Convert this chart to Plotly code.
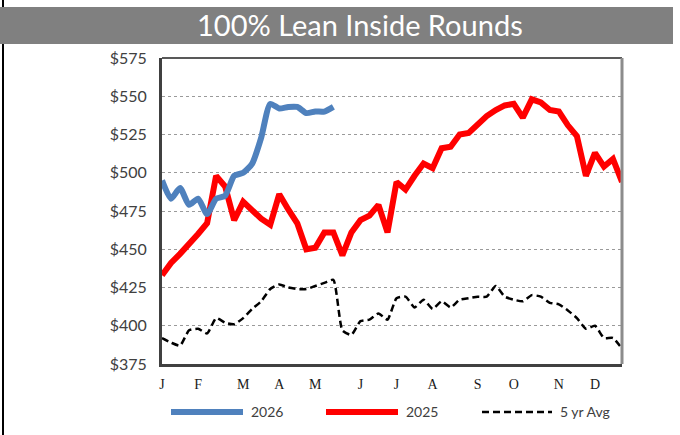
import plotly.graph_objects as go

weeks_2026 = list(range(20))
price_2026 = [495, 483, 490, 479, 483, 473, 483, 485, 498, 500, 506, 523, 545, 542, 543, 543, 539, 540, 540, 543]

weeks_all = list(range(52))
price_2025 = [433, 441, 447, 453, 460, 467, 498, 491, 469, 481, 475, 470, 466, 486, 476, 467,
              450, 451, 461, 461, 446, 461, 469, 472, 479, 461, 494, 489, 498, 506, 503, 516,
              517, 525, 526, 532, 537, 541, 544, 545, 536, 548, 546, 541, 540, 531, 524, 498,
              513, 504, 509, 494]
price_5yr = [392, 389, 387, 397, 398, 395, 405, 402, 401, 405, 411, 416, 424, 427, 425, 424,
             424, 426, 428, 430, 397, 394, 403, 404, 408, 404, 418, 419, 412, 417, 411, 416,
             412, 417, 418, 419, 419, 426, 419, 417, 416, 420, 419, 415, 414, 410, 405, 398,
             400, 392, 392, 385]

month_ticks = [0, 4, 9, 13, 17, 22, 26, 30, 35, 39, 44, 48]
month_labels = ["J", "F", "M", "A", "M", "J", "J", "A", "S", "O", "N", "D"]
y_ticks = [375, 400, 425, 450, 475, 500, 525, 550, 575]
y_labels = ["$" + str(v) for v in y_ticks]

W, H = 680, 435
L, R, T, B = 162, 622, 58, 364

def px(x):
    return (x - L) / (R - L)

def py(y):
    return (B - y) / (B - T)

BLUE = "#4F81BD"
RED = "#FF0000"

fig = go.Figure()
fig.add_trace(go.Scatter(x=weeks_all, y=price_5yr, mode="lines", name="5 yr Avg",
                         line=dict(color="black", width=2.5, dash="7px,4px", shape="spline", smoothing=0.5)))
fig.add_trace(go.Scatter(x=weeks_all, y=price_2025, mode="lines", name="2025",
                         line=dict(color=RED, width=6)))
fig.add_trace(go.Scatter(x=weeks_2026, y=price_2026, mode="lines", name="2026",
                         line=dict(color=BLUE, width=6, shape="spline", smoothing=0.6)))

shapes = []
# left page border line
shapes.append(dict(type="line", xref="paper", yref="paper", x0=px(3), x1=px(3), y0=py(0), y1=py(H),
                   line=dict(color="black", width=2)))
# title bar
shapes.append(dict(type="rect", xref="paper", yref="paper", x0=px(0), x1=px(673), y0=py(7), y1=py(44),
                   fillcolor="#808080", line=dict(width=0)))
# top and right plot border
shapes.append(dict(type="line", xref="paper", yref="paper", x0=0, x1=1, y0=1, y1=1,
                   line=dict(color="#595959", width=2)))
shapes.append(dict(type="line", xref="paper", yref="paper", x0=1, x1=1, y0=0, y1=1,
                   line=dict(color="#8C8C8C", width=3)))

# manual legend
leg_y = py(412)
legend_items = [
    (171, 243, 249, "2026", dict(color=BLUE, width=6)),
    (326, 398, 404, "2025", dict(color=RED, width=6)),
    (482, 552, 558, "5 yr Avg", dict(color="black", width=2.5, dash="7px,4px")),
]
annotations = []
for x0, x1, xt, txt, ln in legend_items:
    shapes.append(dict(type="line", xref="paper", yref="paper", x0=px(x0), x1=px(x1), y0=leg_y, y1=leg_y,
                       line=ln))
    annotations.append(dict(text=txt, xref="paper", yref="paper", x=px(xt), y=leg_y, xanchor="left",
                            yanchor="middle", showarrow=False,
                            font=dict(family="Lato", size=14, color="#404040")))

annotations.append(dict(text="100% Lean Inside Rounds", xref="paper", yref="paper", x=px(360), y=py(25),
                        xanchor="center", yanchor="middle", showarrow=False,
                        font=dict(family="Lato", size=29, color="white")))

fig.update_layout(
    width=W, height=H,
    margin=dict(l=L, r=W - R, t=T, b=H - B, pad=0),
    paper_bgcolor="white", plot_bgcolor="white",
    showlegend=False,
    shapes=shapes,
    annotations=annotations,
    xaxis=dict(range=[0, 51], tickvals=month_ticks, ticktext=month_labels, showgrid=False,
               zeroline=False, showline=True, linecolor="#404040", linewidth=3, ticks="",
               ticklabelstandoff=5,
               tickfont=dict(family="Liberation Serif", size=14, color="#1a1a1a")),
    yaxis=dict(range=[375, 575], tickvals=y_ticks, ticktext=y_labels, showgrid=True,
               gridcolor="#9A9A9A", griddash="dot", gridwidth=1, zeroline=False,
               showline=True, linecolor="#404040", linewidth=3, ticks="",
               ticklabelstandoff=9,
               tickfont=dict(family="Lato", size=16, color="#404040")),
)

fig.write_html("out.html", config={"displayModeBar": False, "staticPlot": True},
               post_script="document.body.style.margin='0px';")
